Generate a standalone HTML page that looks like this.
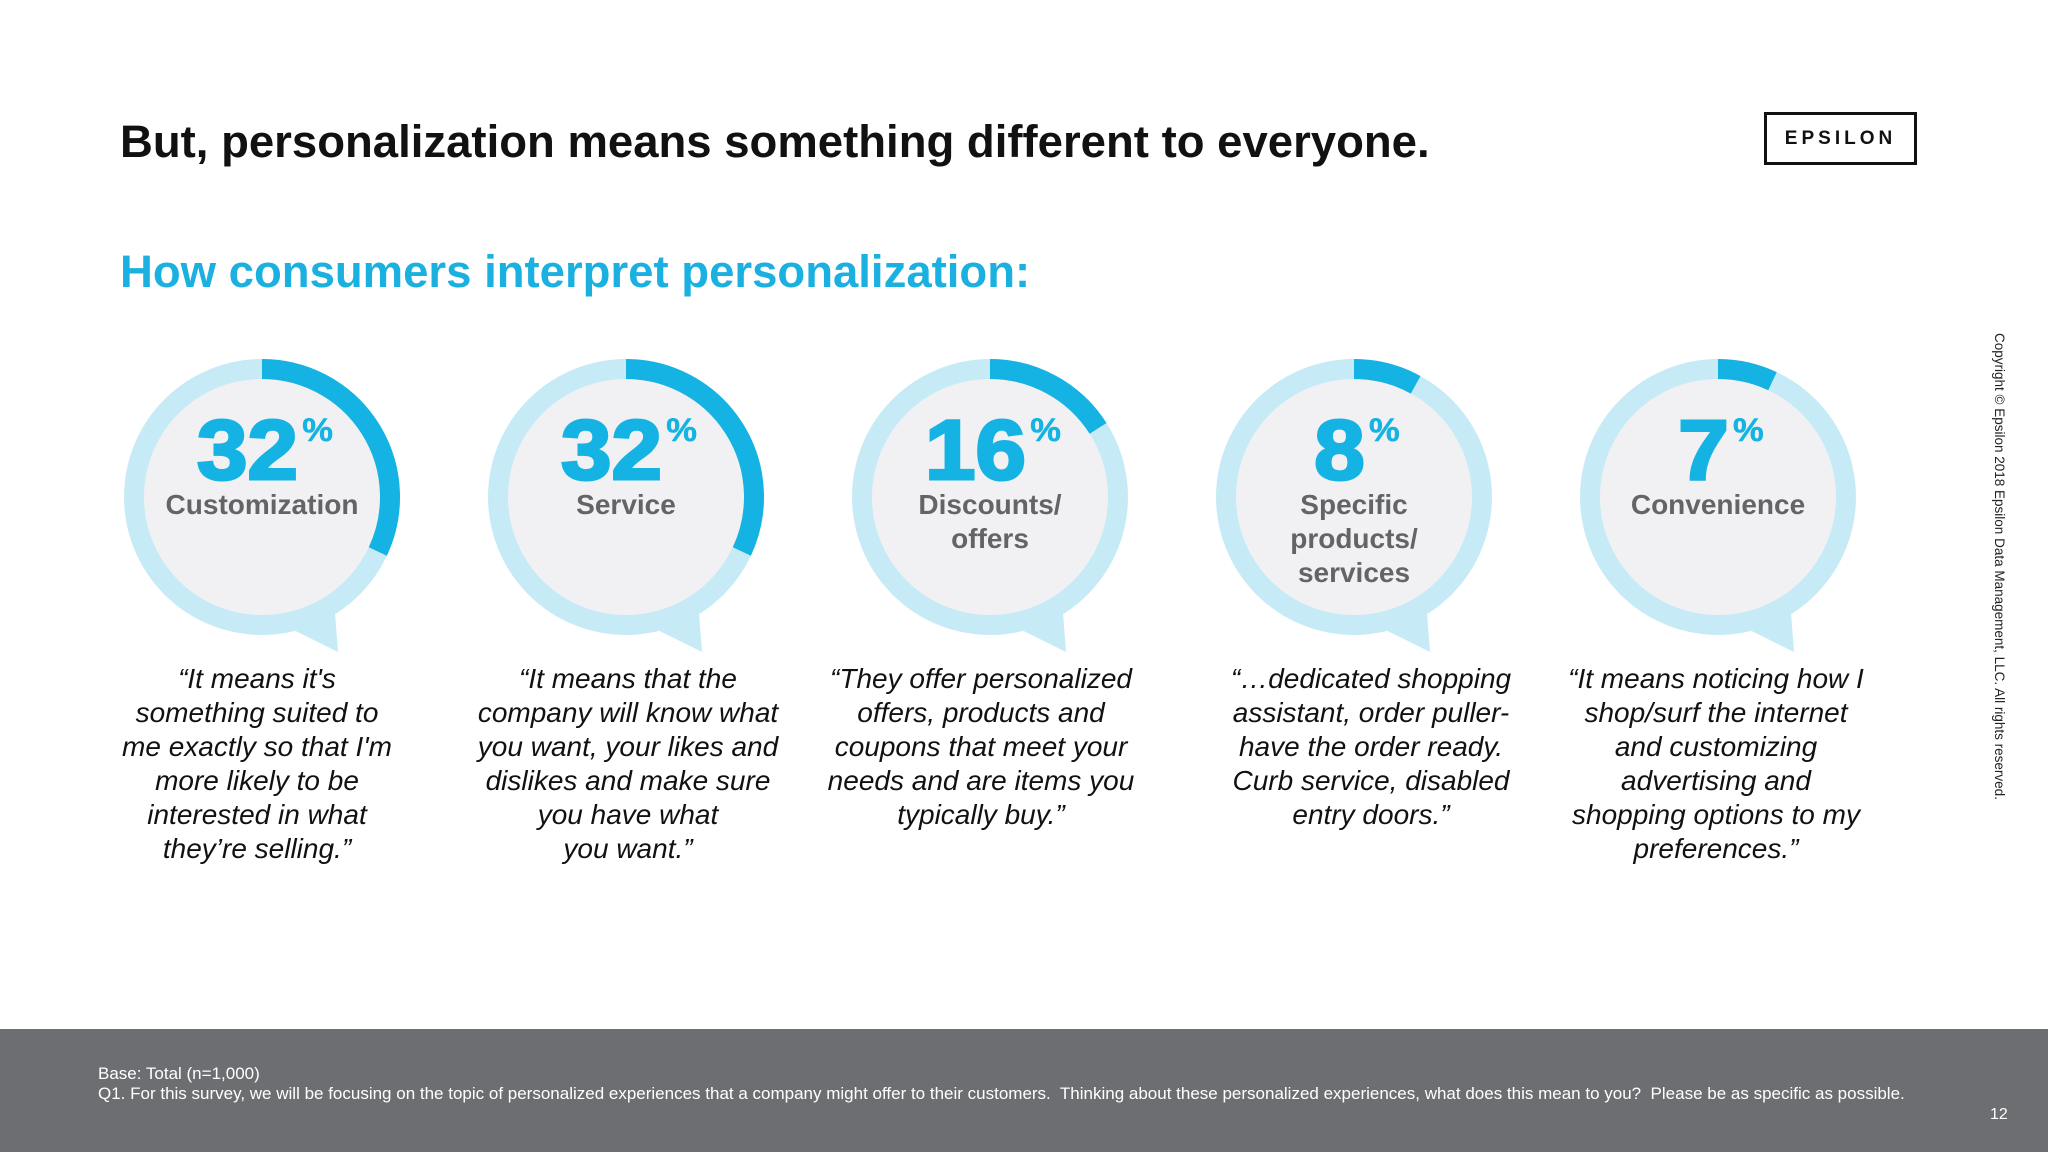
<!DOCTYPE html>
<html><head><meta charset="utf-8"><style>
html,body{margin:0;padding:0;background:#fff;}
body{width:2048px;height:1152px;position:relative;overflow:hidden;font-family:"Liberation Sans",Arial,sans-serif;}
.abs{position:absolute;}
</style></head><body>
<div class="abs" style="left:120px;top:116px;font-size:45.5px;font-weight:bold;color:#111;white-space:nowrap;">But, personalization means something different to everyone.</div>
<div class="abs" style="left:1764px;top:112px;width:147px;height:47px;border:3px solid #111;font-size:19px;font-weight:bold;letter-spacing:4px;text-align:center;line-height:47px;color:#111;">EPSILON</div>
<div class="abs" style="left:120px;top:246px;font-size:45.5px;font-weight:bold;color:#1ab0e0;white-space:nowrap;">How consumers interpret personalization:</div>
<svg class="abs" style="left:0;top:0" width="2048" height="1152" id="chart"></svg>
<div class="abs" style="left:1991px;top:333px;width:16px;height:490px;"><div style="transform-origin:0 0;transform:translate(16px,0) rotate(90deg);white-space:nowrap;font-size:13.5px;color:#222;">Copyright © Epsilon 2018 Epsilon Data Management, LLC. All rights reserved.</div></div>
<div class="abs" style="left:0;top:1029px;width:2048px;height:123px;background:#6d6e71;color:#fff;font-size:17px;">
  <div style="position:absolute;left:98px;top:35px;">Base: Total (n=1,000)</div>
  <div style="position:absolute;left:98px;top:55px;white-space:nowrap;">Q1. For this survey, we will be focusing on the topic of personalized experiences that a company might offer to their customers.&nbsp; Thinking about these personalized experiences, what does this mean to you?&nbsp; Please be as specific as possible.</div>
  <div style="position:absolute;left:1990px;top:77px;font-size:16px;">12</div>
</div>
<script>
const values = [32, 32, 16, 8, 7];
const labels = [["Customization"],["Service"],["Discounts/","offers"],["Specific","products/","services"],["Convenience"]];
const quotes = [
 ["“It means it's","something suited to","me exactly so that I'm","more likely to be","interested in what","they’re selling.”"],
 ["“It means that the","company will know what","you want, your likes and","dislikes and make sure","you have what","you want.”"],
 ["“They offer personalized","offers, products and","coupons that meet your","needs and are items you","typically buy.”"],
 ["“…dedicated shopping","assistant, order puller-","have the order ready.","Curb service, disabled","entry doors.”"],
 ["“It means noticing how I","shop/surf the internet","and customizing","advertising and","shopping options to my","preferences.”"]
];
const quoteShift = [-5, 2, -9, 17, -2];
const svg = document.getElementById('chart');
const NS = 'http://www.w3.org/2000/svg';
const x0 = 262, dx = 364, cy = 497, R = 138, W = 20;
function xPos(i){ return x0 + i*dx; }
function mk(tag, attrs, parent){ const e=document.createElementNS(NS,tag); for(const k in attrs) e.setAttribute(k,attrs[k]); (parent||svg).appendChild(e); return e; }
values.forEach((v,i)=>{
  const cx = xPos(i);
  const g = mk('g',{});
  
  
  const rm = R - W/2;
  const a1 = 58*Math.PI/180, a2 = 76*Math.PI/180;
  const tail = mk('polygon',{points:`${cx+R*Math.cos(a1)},${cy+R*Math.sin(a1)} ${cx+76},${cy+155} ${cx+R*Math.cos(a2)},${cy+R*Math.sin(a2)}`, fill:'#c6ebf6'}, g);
  
  
  const ring = mk('circle',{cx:cx,cy:cy,r:rm,fill:'#f1f1f3',stroke:'#c6ebf6','stroke-width':W}, g);
  
  
  const ang = v/100*2*Math.PI;
  const ex = cx + rm*Math.sin(ang), ey = cy - rm*Math.cos(ang);
  const arc = mk('path',{d:`M${cx},${cy-rm} A${rm},${rm} 0 ${ang>Math.PI?1:0} 1 ${ex},${ey}`, fill:'none', stroke:'#15b3e3','stroke-width':W}, g);
  
  
  const num = mk('text',{x:0,y:cy-18,'text-anchor':'middle','font-size':84,'font-weight':'900',fill:'#15b3e3',stroke:'#15b3e3','stroke-width':3,'font-family':'Liberation Sans, sans-serif',transform:`translate(${cx+3},0) scale(1.08,1)`}, g);
  
  
  num.textContent = v;
  const t1 = document.createElementNS(NS,'tspan'); t1.setAttribute('font-size','32'); t1.setAttribute('stroke-width','0.5'); t1.setAttribute('dy','-38'); t1.setAttribute('dx','4'); t1.textContent='%'; num.appendChild(t1);
  labels[i].forEach((l,j)=>{
    const t = mk('text',{x:cx,y:cy+17+j*34,'text-anchor':'middle','font-size':28,'font-weight':'bold',fill:'#636466','font-family':'Liberation Sans, sans-serif'}, g);
    
    
    t.textContent = l;
  });
  quotes[i].forEach((q,j)=>{
    const t = mk('text',{x:cx+quoteShift[i],y:688+j*34,'text-anchor':'middle','font-size':28,'font-style':'italic',fill:'#111','font-family':'Liberation Sans, sans-serif'}, g);
    
    
    t.textContent = q;
  });
});
</script>
</body></html>
